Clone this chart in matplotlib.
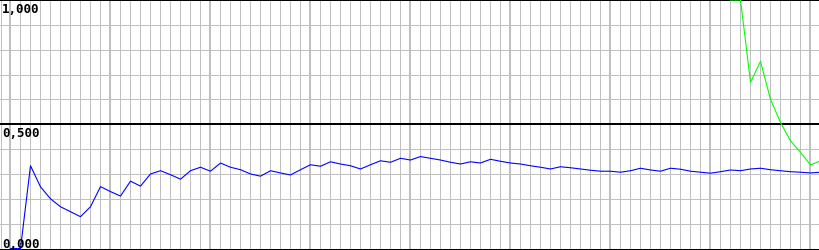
import numpy as np
from matplotlib import pyplot as plt

# Samples, one every step along the x axis
blue_idx = np.arange(1, 83)
blue_vals = [0.0, 0.0, 0.333, 0.248, 0.200, 0.168, 0.148, 0.128, 0.168, 0.249,
             0.229, 0.211, 0.271, 0.251, 0.300, 0.313, 0.297, 0.279, 0.313, 0.327,
             0.311, 0.344, 0.327, 0.317, 0.300, 0.291, 0.313, 0.304, 0.296, 0.317,
             0.337, 0.331, 0.349, 0.340, 0.333, 0.320, 0.337, 0.353, 0.347, 0.363,
             0.356, 0.370, 0.363, 0.356, 0.347, 0.340, 0.349, 0.344, 0.359, 0.351,
             0.344, 0.340, 0.333, 0.327, 0.320, 0.329, 0.325, 0.320, 0.315, 0.311,
             0.311, 0.307, 0.313, 0.323, 0.316, 0.311, 0.323, 0.319, 0.311, 0.307,
             0.303, 0.309, 0.316, 0.313, 0.320, 0.323, 0.317, 0.313, 0.309, 0.307,
             0.304, 0.307]

green_idx = np.arange(73, 83)
green_vals = [1.0, 1.0, 0.669, 0.753, 0.600, 0.507, 0.433, 0.387, 0.336, 0.353]

y_labels = ["1,000", "0,500", "0,000"]

fig = plt.figure(figsize=(8.2, 2.51), dpi=100)
ax = fig.add_axes([0, 0, 1, 1])
ax.set_xlim(-0.05, 81.95)
ax.set_ylim(-1.5 / 249, 1 + 1.0 / 249)
ax.axis("off")

px = 0.72  # one pixel in points

# grid
for i in range(0, 83):
    lw = 2 * px if i % 10 == 1 else px
    ax.axvline(i, color="#c0c0c0", lw=lw, antialiased=False, zorder=1)
for v in [0.1, 0.2, 0.3, 0.4, 0.6, 0.7, 0.8, 0.9]:
    ax.axhline(v, color="#c0c0c0", lw=px, antialiased=False, zorder=1)
for v in [-1 / 249, 0.5, 1.0]:
    ax.axhline(v, color="black", lw=1.6 * px, antialiased=False, zorder=2,
               clip_on=False)

ax.plot(blue_idx, blue_vals, color="#0000ff", lw=1.1 * px, zorder=3)
ax.plot(green_idx, green_vals, color="#00ff00", lw=1.1 * px, zorder=3,
        clip_on=False)

font = dict(family="DejaVu Sans Mono", weight="bold", fontsize=9, zorder=4)
ax.text(0.15, 0.99, y_labels[0], va="top", ha="left", **font)
ax.text(0.15, 0.493, y_labels[1], va="top", ha="left", **font)
ax.text(0.15, 0.007, y_labels[2], va="baseline", ha="left", **font)

fig.savefig("out.png", dpi=100)
